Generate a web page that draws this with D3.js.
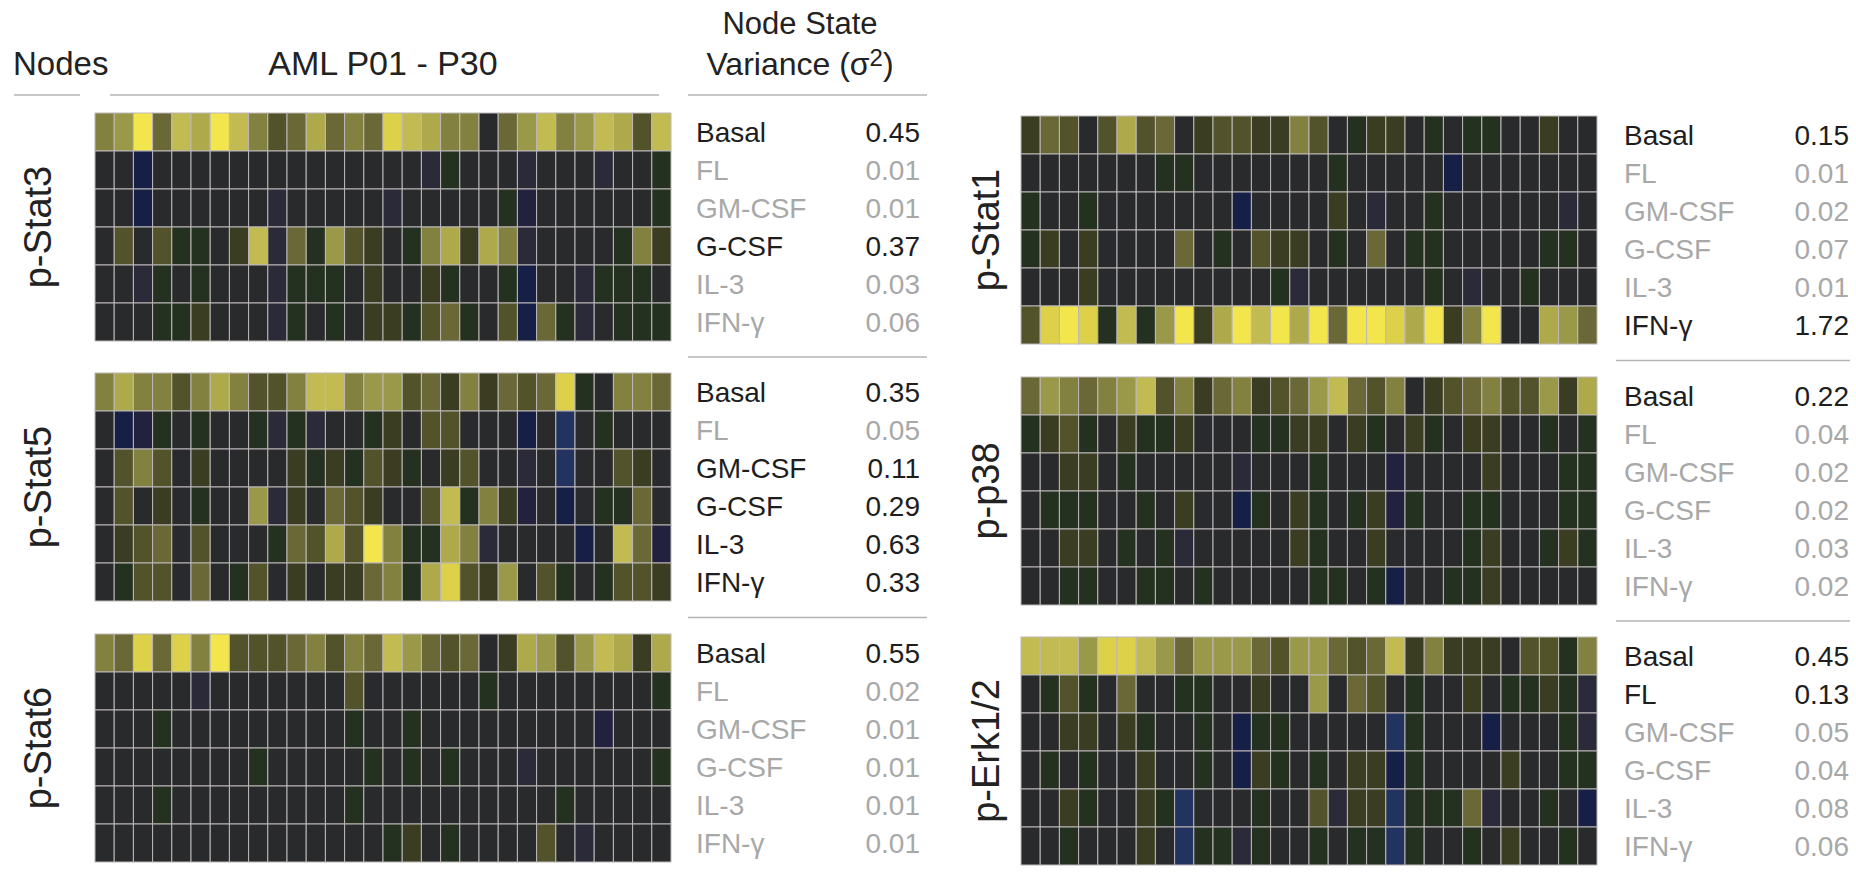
<!DOCTYPE html>
<html>
<head>
<meta charset="utf-8">
<script src="https://cdn.jsdelivr.net/npm/d3@7"></script>
<style>
  body { margin: 0; background: #fff; }
  svg { display: block; }
  text { font-family: "Liberation Sans", Arial, Helvetica, sans-serif; }
</style>
</head>
<body>
<svg id="chart" width="1856" height="878"></svg>
<script>
// Patients (columns) and stimulation conditions (rows)
const patients = d3.range(1, 31).map(i => "P" + String(i).padStart(2, "0"));
const conditions = ["Basal", "FL", "GM-CSF", "G-CSF", "IL-3", "IFN-γ"];

// Signaling levels per node: one row per condition, one value per patient
// (positive = induced phosphorylation, negative = reduced)
const pStat3 = [
  [5,6,10,4,8,7,10,8,5,3, 4,7,4,5,4,9,8,7,5,5, 0,4,6,8,5,6,8,7,3,8],
  [0,0,-3,0,0,0,0,0,0,0, 0,0,0,0,0,0,0,-1,1,0, 0,0,-1,0,0,0,-1,0,0,1],
  [0,0,-3,0,0,0,0,0,0,-1, 0,0,0,0,0,-1,0,0,0,0, 0,1,-2,0,0,0,0,0,0,1],
  [0,3,0,3,1,1,0,2,8,-1, 4,1,6,3,2,0,1,5,7,2, 7,5,-1,0,0,0,0,1,5,2],
  [0,0,-1,1,0,1,0,0,0,-1, 1,1,1,0,2,0,0,2,1,0, 0,1,-3,0,0,-1,1,1,1,0],
  [0,0,0,1,1,2,0,0,0,-1, 1,0,1,0,2,2,1,3,4,1, 0,3,-3,4,1,-1,0,1,1,1]
];
const pStat5 = [
  [5,7,5,5,3,5,7,5,3,3, 5,8,8,5,6,6,3,4,2,5, 2,4,3,4,9,1,0,5,5,4],
  [0,-3,-2,1,0,1,0,0,1,-1, 1,-1,0,0,1,2,0,3,3,0, 0,0,-3,0,-4,0,1,0,0,0],
  [0,3,5,3,0,2,0,0,0,0, 2,1,2,1,3,2,1,0,2,3, 0,0,-1,0,-4,0,0,3,2,0],
  [0,3,0,2,0,1,0,0,6,-1, 2,0,4,3,2,0,0,3,8,1, 5,2,-2,0,-3,0,1,1,4,0],
  [0,2,3,4,0,3,0,0,0,1, 4,3,7,3,10,5,1,1,7,5, -1,0,0,0,0,-3,0,8,4,-2],
  [0,1,3,3,0,4,0,1,3,0, 2,0,2,2,4,5,1,7,9,3, 2,6,0,3,1,0,1,3,3,2]
];
const pStat6 = [
  [5,4,9,4,9,5,10,3,3,3, 4,5,3,5,4,8,6,4,3,4, 0,2,7,6,3,6,8,7,2,7],
  [0,0,0,0,0,-1,0,0,0,0, 0,0,0,3,0,0,0,0,0,0, 1,0,0,0,0,0,0,0,0,1],
  [0,0,0,1,0,0,0,0,0,0, 0,0,0,1,0,0,1,0,0,0, 0,0,0,0,0,0,-2,0,0,0],
  [0,0,0,0,0,0,0,0,1,0, 0,0,0,0,1,0,1,0,1,0, 0,0,-1,0,0,0,0,0,0,1],
  [0,0,0,1,0,0,0,0,0,0, 0,0,0,1,0,0,0,0,0,0, 0,0,0,0,1,0,0,0,0,0],
  [0,0,0,0,0,0,0,0,0,0, 0,0,0,0,0,1,2,0,1,0, 0,0,0,3,0,-1,0,0,0,0]
];
const pStat1 = [
  [2,4,3,0,3,7,3,4,0,2, 3,3,2,2,5,3,0,1,2,2, 0,1,0,1,1,0,0,2,0,0],
  [0,0,0,0,0,0,0,1,1,0, 0,0,0,0,0,0,1,0,0,0, 0,0,-3,0,0,0,0,0,0,0],
  [1,0,0,1,0,0,0,0,0,0, 0,-3,0,0,0,0,2,0,-1,0, 0,1,0,0,0,0,0,0,-1,0],
  [1,2,0,2,0,0,0,0,4,0, 1,0,3,2,2,0,1,0,4,0, 1,1,0,0,0,0,0,1,1,0],
  [0,0,0,2,0,0,0,0,0,0, 0,0,0,1,-1,0,0,0,0,0, 0,1,0,-1,0,0,1,0,0,0],
  [3,9,10,9,1,8,1,6,10,2, 7,10,8,10,7,10,4,10,10,9, 7,10,2,5,10,0,0,7,6,4]
];
const pP38 = [
  [4,6,5,4,5,6,8,3,5,2, 4,5,2,3,4,6,8,4,3,5, 0,2,3,4,5,3,3,6,2,7],
  [1,2,3,1,0,2,1,1,2,0, 0,0,1,1,2,2,0,2,1,0, 2,1,0,2,2,0,0,1,0,1],
  [0,0,2,2,0,1,0,0,0,0, 0,-1,0,0,0,1,0,0,0,-2, 0,0,0,0,2,0,0,0,1,1],
  [0,1,1,1,0,0,1,0,2,0, 0,-3,1,0,2,1,0,1,2,-2, 1,0,0,1,1,0,0,0,1,1],
  [0,0,2,2,0,1,0,1,-1,0, 0,0,0,0,2,1,0,0,2,0, 0,0,0,1,2,0,0,1,2,1],
  [0,0,1,1,0,0,1,1,0,1, 0,0,0,0,0,1,1,0,1,-3, 0,0,1,1,2,0,0,0,0,0]
];
const pErk = [
  [8,8,8,6,9,9,8,6,4,6, 6,6,4,3,6,6,4,3,4,8, 2,5,2,2,2,0,3,3,1,5],
  [0,1,3,1,0,4,0,0,1,1, 0,0,2,0,0,6,0,4,3,0, 1,0,0,2,0,1,1,2,1,-1],
  [0,0,2,2,0,2,1,0,0,1, 0,-3,1,1,0,0,0,0,0,-4, 1,0,0,0,-3,0,0,0,1,-1],
  [0,1,0,1,0,0,2,0,0,1, 0,-3,2,1,0,1,0,2,2,-3, 1,0,0,0,0,2,0,0,1,1],
  [0,0,2,1,0,0,2,1,-4,0, 0,0,1,0,0,3,-1,2,2,-4, 1,1,1,4,-1,0,0,1,0,-3],
  [0,0,1,0,0,0,2,0,-4,1, 1,-1,1,0,0,1,0,1,1,-4, 1,0,0,1,0,2,0,0,1,0]
];

// Node state variance (σ²) per condition
const varStat3 = [0.45, 0.01, 0.01, 0.37, 0.03, 0.06];
const varStat5 = [0.35, 0.05, 0.11, 0.29, 0.63, 0.33];
const varStat6 = [0.55, 0.02, 0.01, 0.01, 0.01, 0.01];
const varStat1 = [0.15, 0.01, 0.02, 0.07, 0.01, 1.72];
const varP38   = [0.22, 0.04, 0.02, 0.02, 0.03, 0.02];
const varErk   = [0.45, 0.13, 0.05, 0.04, 0.08, 0.06];

const panels = [
  { node: "p-Stat3",  values: pStat3, variance: varStat3, col: 0, top: 113 },
  { node: "p-Stat5",  values: pStat5, variance: varStat5, col: 0, top: 373 },
  { node: "p-Stat6",  values: pStat6, variance: varStat6, col: 0, top: 634 },
  { node: "p-Stat1",  values: pStat1, variance: varStat1, col: 1, top: 116 },
  { node: "p-p38",    values: pP38,   variance: varP38,   col: 1, top: 377 },
  { node: "p-Erk1/2", values: pErk,   variance: varErk,   col: 1, top: 637 }
];

// Column geometry: heatmap span, label x, table x positions, separator span
const columns = [
  { x0: 95,   x1: 671,  labelX: 51,  nameX: 696,  valX: 920,  sep: [688, 927] },
  { x0: 1021, x1: 1597, labelX: 999, nameX: 1624, valX: 1849, sep: [1616, 1850] }
];
const heatH = 228;

const color = d3.scaleLinear()
  .domain([-4, -3, -2, -1, 0, 1, 2, 3, 4, 5, 6, 7, 8, 9, 10])
  .range(["#22335f", "#161f45", "#22223e", "#2a2a38", "#282a2c", "#243020",
          "#3a3d21", "#52532b", "#696836", "#838140", "#9a9849", "#aeaa4c",
          "#c2bb52", "#dcd149", "#f3e54c"])
  .clamp(true);

const svg = d3.select("#chart");
const lineColor = "#b4b4b4";

// Header
svg.append("text").attr("x", 13).attr("y", 75)
  .attr("font-size", 33).attr("fill", "#222").text("Nodes");
svg.append("text").attr("x", (columns[0].x0 + columns[0].x1) / 2).attr("y", 75)
  .attr("text-anchor", "middle").attr("font-size", 34).attr("fill", "#222").text("AML P01 - P30");
svg.append("text").attr("x", 800).attr("y", 34)
  .attr("text-anchor", "middle").attr("font-size", 31).attr("fill", "#222").text("Node State");
const varHead = svg.append("text").attr("x", 800).attr("y", 75)
  .attr("text-anchor", "middle").attr("font-size", 32).attr("fill", "#222");
varHead.append("tspan").text("Variance (σ");
varHead.append("tspan").attr("font-size", 24).attr("dy", -9).text("2");
varHead.append("tspan").attr("dy", 9).text(")");

[[14, 80], [110, 659], [688, 927]].forEach(([a, b]) => {
  svg.append("line").attr("x1", a).attr("x2", b).attr("y1", 95).attr("y2", 95)
    .attr("stroke", lineColor).attr("stroke-width", 1.5);
});

panels.forEach((p, pi) => {
  const c = columns[p.col];
  const x = d3.scaleBand().domain(patients).range([c.x0, c.x1]);
  const y = d3.scaleBand().domain(conditions).range([p.top, p.top + heatH]);
  const g = svg.append("g");

  const cells = [];
  p.values.forEach((row, ri) => row.forEach((v, ci) =>
    cells.push({ cond: conditions[ri], patient: patients[ci], v })));

  g.selectAll("rect").data(cells).join("rect")
    .attr("x", d => x(d.patient))
    .attr("y", d => y(d.cond))
    .attr("width", x.bandwidth())
    .attr("height", y.bandwidth())
    .attr("fill", d => color(d.v))
    .attr("stroke", "#bdb8b8")
    .attr("stroke-width", 1);

  // node label, rotated
  svg.append("text")
    .attr("transform", `translate(${c.labelX},${p.top + heatH / 2}) rotate(-90)`)
    .attr("text-anchor", "middle").attr("font-size", 38).attr("fill", "#222")
    .text(p.node);

  // variance table
  conditions.forEach((cond, ri) => {
    const v = p.variance[ri];
    const fill = v >= 0.1 ? "#1e1e1e" : "#a8a8a8";
    const yy = y(cond) + y.bandwidth() / 2 + 10;
    svg.append("text").attr("x", c.nameX).attr("y", yy)
      .attr("font-size", 28).attr("fill", fill).text(cond);
    svg.append("text").attr("x", c.valX).attr("y", yy)
      .attr("text-anchor", "end").attr("font-size", 28).attr("fill", fill)
      .text(d3.format(".2f")(v));
  });

  // separator below the panel (except the last in each column)
  const next = panels.find((q, qi) => qi > pi && q.col === p.col);
  if (next) {
    const yy = (p.top + heatH + next.top) / 2;
    svg.append("line").attr("x1", c.sep[0]).attr("x2", c.sep[1])
      .attr("y1", yy).attr("y2", yy)
      .attr("stroke", lineColor).attr("stroke-width", 1.5);
  }
});
</script>
</body>
</html>
